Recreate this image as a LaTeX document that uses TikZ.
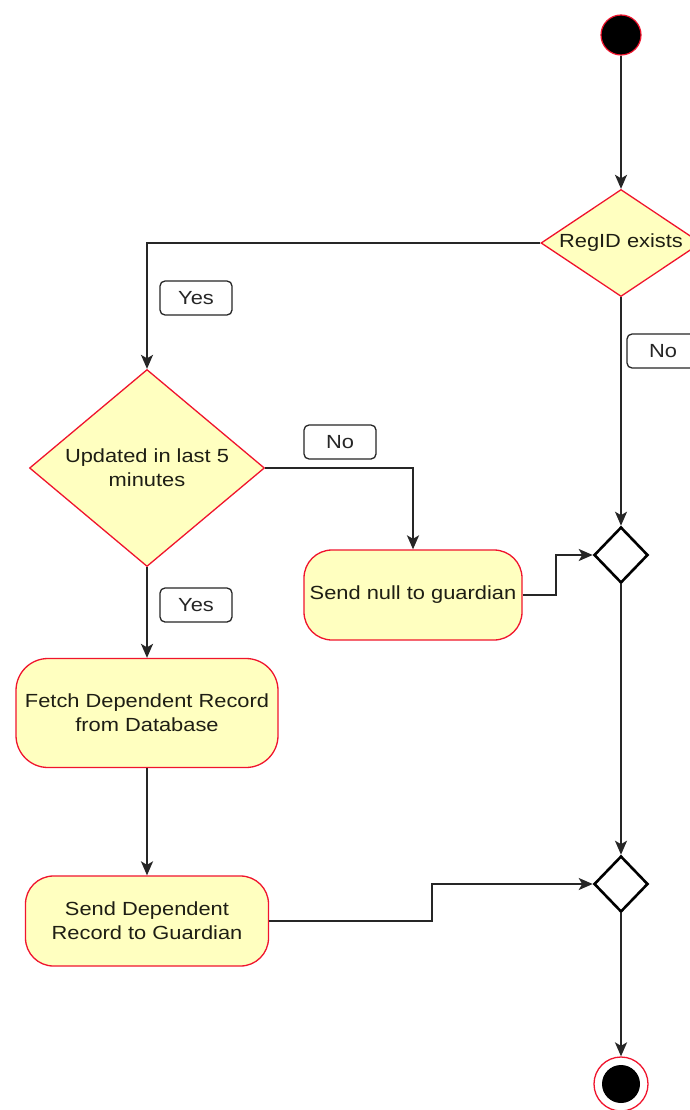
\documentclass[tikz,border=0pt]{standalone}
\usepackage{fontspec}
\setmainfont{Liberation Sans}[FakeStretch=1.15]
\usetikzlibrary{shapes.geometric,arrows.meta}
\definecolor{actfill}{HTML}{FFFFC0}
\definecolor{actline}{HTML}{F0142D}
\definecolor{ink}{HTML}{1E1E14}
\definecolor{wire}{HTML}{262626}
\begin{document}
\begin{tikzpicture}[x=1pt,y=-1pt,
  txt/.style={font=\fontsize{19}{24}\selectfont, text=ink, align=center},
  action/.style={txt, draw=actline, fill=actfill, line width=1.3pt, rectangle, inner sep=0pt},
  decision/.style={diamond, draw=actline, fill=actfill, line width=1.3pt, inner sep=0pt},
  merge/.style={diamond, draw=black, fill=white, line width=2.6pt, inner sep=0pt,
    minimum width=54pt, minimum height=56pt},
  guard/.style={txt, draw=wire, fill=white, line width=1.3pt, rounded corners=5pt,
    minimum width=72pt, minimum height=34pt, inner sep=0pt, text=wire},
  flow/.style={draw=wire, line width=2pt, -{Stealth[length=14pt,width=12pt,inset=3.5pt]}}
]
\useasboundingbox (0,0) rectangle (690,1110);
\clip (0,0) rectangle (690,1110);
\fill[white] (0,0) rectangle (690,1110);

% initial and final states
\node[circle, fill=black, draw=actline, line width=1.2pt, minimum size=40pt, inner sep=0pt] (start) at (621,35) {};
\node[circle, draw=actline, fill=white, line width=1.3pt, minimum size=54pt, inner sep=0pt] (stop) at (621,1084) {};
\node[circle, fill=black, minimum size=38pt, inner sep=0pt] (stopdot) at (stop.center) {};

% decisions
\node[decision, minimum width=160pt, minimum height=107pt,
  label={[txt]center:RegID exists}] (regid) at (621,243) {};
\node[decision, minimum width=235pt, minimum height=197pt,
  label={[txt]center:Updated in last 5\\minutes}] (upd) at (147,468) {};

% actions
\node[action, rounded corners=28pt, minimum width=218pt, minimum height=90pt] (null) at (413,595) {Send null to guardian};
\node[action, rounded corners=32pt, minimum width=262pt, minimum height=109pt] (fetch) at (147,713) {Fetch Dependent Record\\from Database};
\node[action, rounded corners=28pt, minimum width=243pt, minimum height=90pt] (send) at (147,921) {Send Dependent\\Record to Guardian};

% merge points
\node[merge] (m1) at (621,555) {};
\node[merge] (m2) at (621,884) {};

% guard labels
\node[guard] (yes1) at (196,298) {Yes};
\node[guard] (no1) at (663,351) {No};
\node[guard] (no2) at (340,442) {No};
\node[guard] (yes2) at (196,605) {Yes};

% control flow
\draw[flow] (start) -- (regid.north);
\draw[flow] (regid.west) -| (upd.north);
\draw[flow] (regid.south) -- (m1.north);
\draw[flow] (upd.east) -| (null.north);
\draw[flow] (upd.south) -- (fetch.north);
\draw[flow] (null.east) -| ([xshift=-37pt]m1.west) -- (m1.west);
\draw[flow] (fetch.south) -- (send.north);
\draw[flow] (send.east) -| ([xshift=-161pt]m2.west) -- (m2.west);
\draw[flow] (m1.south) -- (m2.north);
\draw[flow] (m2.south) -- (stop.north);
\end{tikzpicture}
\end{document}
